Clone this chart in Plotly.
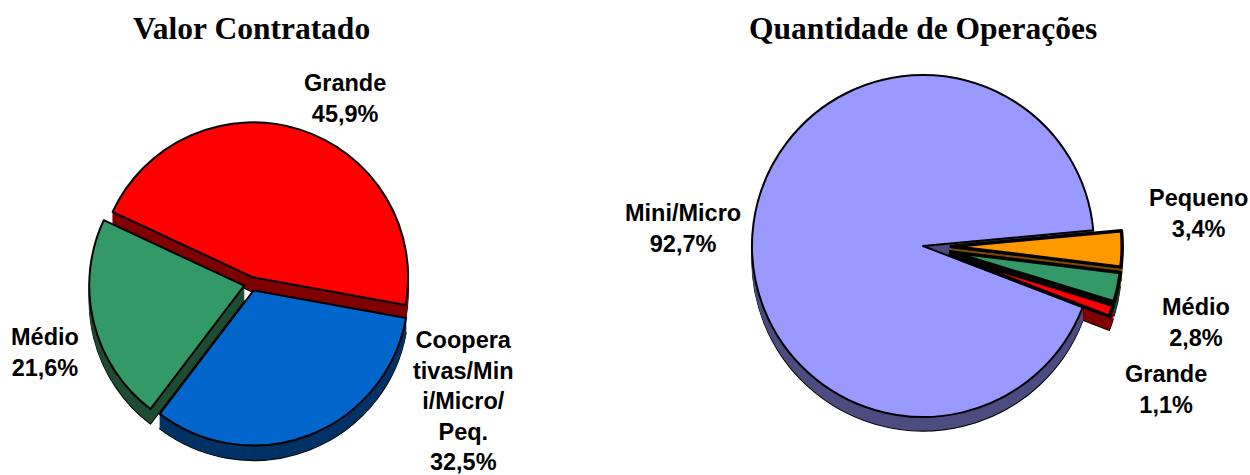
import plotly.graph_objects as go

W, H = 1250, 475
left_labels = ["Grande", "Coopera<br>tivas/Min<br>i/Micro/<br>Peq.", "Médio"]
left_values = [45.9, 32.5, 21.6]
left_colors = ["#FF0000", "#0066CC", "#339966"]
left_dark = ["#800000", "#003366", "#1E4D33"]
left_pull = [0.045, 0.045, 0.045]
left_edge = [2, 2, 2]

right_labels = ["Mini/Micro", "Pequeno", "Médio", "Grande"]
right_values = [92.7, 3.4, 2.8, 1.1]
right_colors = ["#9999FF", "#FF9900", "#339966", "#FF0000"]
right_dark = ["#4D4D80", "#804D00", "#1E4D33", "#800000"]
right_pull = [0, 0.165, 0.165, 0.165]
right_edge = [2, 3.5, 3.5, 3.5]

fig = go.Figure()


def add_pie(values, colors, dark, pull, edge, rotation, cx, cy, r, depth):
    half = r * (1 + max(pull))
    for off in range(depth, -1, -1):
        fill = colors if off == 0 else dark
        if off == 0:
            line = dict(color="#000000", width=edge)
        elif off == depth:
            line = dict(color="#000000", width=1.2)
        else:
            line = dict(color=dark, width=0.5)
        fig.add_trace(go.Pie(
            values=values, sort=False, direction="clockwise", rotation=rotation,
            pull=pull, textinfo="none", hoverinfo="skip", showlegend=False,
            marker=dict(colors=fill, line=line),
            domain=dict(x=[(cx - half) / W, (cx + half) / W],
                        y=[1 - (cy + off + half) / H, 1 - (cy + off - half) / H]),
        ))


add_pie(left_values, left_colors, left_dark, left_pull, left_edge, 295, 251, 284, 155, 15)
add_pie(right_values, right_colors, right_dark, right_pull, right_edge, 111, 923, 246, 171, 14)


def pct(v):
    return f"{v:.1f}%".replace(".", ",")


def note(text, x, y, size=23.5, family="Liberation Sans"):
    fig.add_annotation(text=f"<b>{text}</b>", x=x / W, y=1 - y / H, xref="paper", yref="paper",
                       showarrow=False, xanchor="center", yanchor="middle", align="center",
                       font=dict(family=family, size=size, color="#000000"))


note("Valor Contratado", 251, 29, 31.5, "Liberation Serif")
note("Quantidade de Operações", 923, 29, 31.5, "Liberation Serif")
note(f"{left_labels[0]}<br>{pct(left_values[0])}", 345, 98)
note(f"{left_labels[1]}<br>{pct(left_values[1])}", 464, 401)
note(f"{left_labels[2]}<br>{pct(left_values[2])}", 45, 352)
note(f"{right_labels[0]}<br>{pct(right_values[0])}", 683, 228)
note(f"{right_labels[1]}<br>{pct(right_values[1])}", 1198, 213)
note(f"{right_labels[2]}<br>{pct(right_values[2])}", 1196, 322)
note(f"{right_labels[3]}<br>{pct(right_values[3])}", 1166, 389)

fig.update_layout(width=W, height=H, margin=dict(l=0, r=0, t=0, b=0),
                  paper_bgcolor="white", plot_bgcolor="white")
fig.write_html("out.html", config=dict(displayModeBar=False),
               post_script="document.body.style.margin='0';document.documentElement.style.overflow='hidden';")
